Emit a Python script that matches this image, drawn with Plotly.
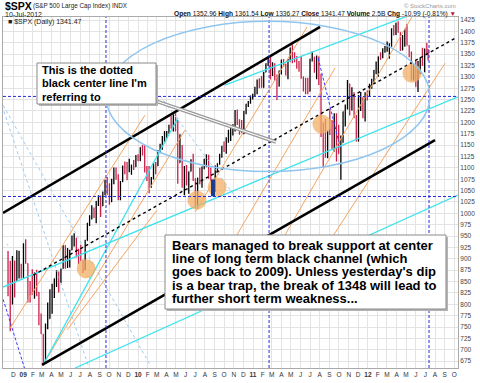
import plotly.graph_objects as go
import pandas as pd

# ---------------- weekly S&P 500 bars ----------------
first_open = 931
close_2008 = [873, 800, 896, 876, 879, 887, 873]
high_2008 = [917, 896, 906, 896, 919, 918, 889]
low_2008 = [818, 741, 800, 815, 851, 857, 857]

close_2009 = [932, 890, 850, 832, 826, 869, 827, 770, 735, 683, 756, 768, 816, 843, 857, 870, 866, 878,
              929, 883, 887, 919, 940, 946, 921, 918, 896, 879, 940, 979, 987, 1010, 1005, 1026, 1029,
              1016, 1042, 1068, 1044, 1025, 1071, 1087, 1080, 1036, 1069, 1093, 1091, 1091, 1106, 1106,
              1102, 1126, 1115]
high_2009 = [934, 943, 890, 851, 877, 870, 876, 827, 780, 735, 758, 804, 833, 845, 857, 875, 872, 878,
             930, 930, 924, 920, 951, 956, 946, 922, 931, 898, 942, 979, 996, 1018, 1013, 1027, 1040,
             1039, 1048, 1074, 1080, 1066, 1076, 1101, 1101, 1086, 1071, 1105, 1114, 1113, 1120, 1107,
             1117, 1128, 1130]
low_2009 = [857, 889, 804, 804, 821, 812, 818, 754, 735, 666, 672, 745, 768, 779, 814, 838, 826, 847,
            878, 878, 880, 881, 919, 927, 903, 888, 896, 869, 875, 940, 972, 987, 990, 978, 1016,
            992, 1016, 1040, 1041, 1019, 1025, 1064, 1074, 1029, 1029, 1069, 1086, 1073, 1091, 1085,
            1095, 1102, 1115]

close_2010 = [1145, 1136, 1092, 1074, 1066, 1075, 1109, 1104, 1138, 1150, 1159, 1167,
              1179, 1194, 1192, 1217, 1187, 1111, 1136, 1087, 1089, 1064, 1092, 1117, 1076,
              1022, 1078, 1065, 1102, 1102, 1122, 1079, 1071, 1065, 1104, 1110, 1125, 1148,
              1146, 1166, 1176, 1183, 1183, 1225, 1199, 1199, 1190, 1225, 1240, 1244, 1256, 1258]
high_2010 = [1145, 1150, 1150, 1104, 1104, 1080, 1112, 1113, 1139, 1153, 1170, 1181,
             1181, 1195, 1214, 1217, 1220, 1205, 1174, 1150, 1104, 1106, 1092, 1119, 1131,
             1077, 1078, 1100, 1103, 1120, 1130, 1129, 1100, 1072, 1105, 1110, 1131, 1148,
             1158, 1167, 1184, 1190, 1196, 1227, 1228, 1207, 1205, 1225, 1241, 1247, 1259, 1263]
low_2010 = [1115, 1127, 1090, 1071, 1044, 1056, 1075, 1086, 1104, 1132, 1140, 1155,
            1165, 1175, 1186, 1180, 1180, 1065, 1111, 1056, 1040, 1061, 1043, 1092, 1071,
            1011, 1010, 1064, 1056, 1097, 1102, 1076, 1070, 1040, 1047, 1091, 1107, 1122,
            1135, 1131, 1155, 1159, 1171, 1180, 1194, 1173, 1177, 1174, 1218, 1234, 1241, 1250]

close_2011 = [1271, 1293, 1283, 1276, 1310, 1329, 1343, 1320, 1321, 1304, 1279, 1313,
              1332, 1328, 1319, 1337, 1364, 1340, 1338, 1333, 1331, 1300, 1271, 1271, 1268,
              1339, 1344, 1316, 1345, 1292, 1199, 1178, 1124, 1177, 1174, 1154, 1216, 1136, 1131,
              1155, 1224, 1238, 1285, 1253, 1263, 1216, 1159, 1244, 1255, 1219, 1265, 1258]
high_2011 = [1278, 1294, 1297, 1302, 1311, 1330, 1344, 1343, 1332, 1330, 1305, 1314,
             1338, 1339, 1329, 1339, 1364, 1371, 1354, 1346, 1335, 1346, 1301, 1298, 1298,
             1340, 1356, 1344, 1347, 1345, 1307, 1199, 1208, 1182, 1230, 1205, 1220, 1220, 1195,
             1171, 1224, 1239, 1293, 1285, 1277, 1266, 1216, 1260, 1267, 1255, 1266, 1270]
low_2011 = [1257, 1262, 1275, 1276, 1276, 1310, 1324, 1294, 1302, 1292, 1249, 1279,
            1305, 1322, 1303, 1295, 1334, 1330, 1332, 1318, 1311, 1296, 1268, 1262, 1262,
            1268, 1334, 1309, 1295, 1282, 1168, 1101, 1122, 1121, 1172, 1140, 1136, 1114, 1131,
            1074, 1155, 1191, 1228, 1215, 1226, 1209, 1158, 1158, 1225, 1209, 1202, 1248]

close_2012 = [1278, 1289, 1315, 1316, 1345, 1343, 1361, 1366, 1370, 1371, 1404, 1397, 1408,
              1398, 1370, 1378, 1403, 1369, 1353, 1295, 1318, 1278, 1325, 1343, 1335, 1362,
              1355, 1341]
high_2012 = [1285, 1296, 1315, 1334, 1345, 1354, 1363, 1368, 1378, 1374, 1407, 1414, 1419,
             1422, 1398, 1392, 1406, 1416, 1370, 1356, 1328, 1335, 1335, 1343, 1364, 1362,
             1375, 1361]
low_2012 = [1258, 1274, 1286, 1306, 1300, 1337, 1341, 1353, 1355, 1340, 1366, 1391, 1392,
            1397, 1357, 1358, 1366, 1369, 1343, 1292, 1292, 1278, 1267, 1306, 1324, 1310,
            1350, 1336]

# ---------------- drawn tools (dates / prices) ----------------
upper_channel_dates = ['2008-10-29', '2011-08-02']
upper_channel_prices = [1001, 1410]
center_line_dates = ['2009-02-02', '2012-10-04']
center_line_prices = [864, 1385]
lower_channel_dates = ['2009-03-02', '2012-08-01']
lower_channel_prices = [667, 1161]

cyan_lines = {
    'A': (['2008-10-29', '2012-10-13'], [838, 1256]),
    'B': (['2010-10-04', '2012-05-30'], [1282, 1440]),
    'C': (['2009-06-15', '2012-10-13'], [660, 1040]),
    'S1': (['2009-03-05', '2010-05-08'], [667, 1210]),
}
orange_lines = {
    'O1': (['2008-11-21', '2010-01-23'], [748, 1216]),
    'O2': (['2009-03-05', '2010-05-30'], [667, 1183]),
    'O3': (['2010-07-01', '2011-06-22'], [1003, 1410]),
    'O4': (['2010-10-04', '2011-09-19'], [908, 1320]),
    'O5': (['2010-12-23', '2012-05-23'], [821, 1436]),
    'O6': (['2011-04-13', '2012-09-02'], [788, 1330]),
    'O8': (['2009-05-21', '2010-03-02'], [744, 1007]),
}
light_blue_lines = {
    'L1': (['2008-10-20', '2009-07-26'], [1249, 667]),
    'L2': (['2008-10-20', '2010-02-08'], [1249, 667]),
    'L3': (['2010-03-12', '2010-11-21'], [1258, 1023]),
}
blue_dash_lines = {
    'D1': (['2008-10-20', '2009-01-07'], [832, 656]),
    'D2': (['2011-07-27', '2011-10-05'], [1341, 1144]),
}
vertical_line_dates = ['2009-09-21', '2011-02-21', '2012-07-13']
horizontal_line_prices = [1257, 1037]
ellipse_dates = ['2009-09-21', '2012-07-16']
ellipse_prices = [1092, 1422]
blob_dates = ['2009-07-20', '2010-07-07', '2010-09-09', '2011-08-08', '2012-05-20']
blob_prices = [878, 1029, 1058, 1196, 1308]
navy_mark_dates = ['2010-08-27']
navy_mark_prices = [1056]

y_ticks = list(range(675, 1426, 25))
month_letters = ['J', 'F', 'M', 'A', 'M', 'J', 'J', 'A', 'S', 'O', 'N', 'D']

# ---------------- assemble ----------------
closes = close_2008 + close_2009 + close_2010 + close_2011 + close_2012
highs = high_2008 + high_2009 + high_2010 + high_2011 + high_2012
lows = low_2008 + low_2009 + low_2010 + low_2011 + low_2012
opens = [first_open] + closes[:-1]
dates = list(pd.date_range('2008-11-14', periods=len(closes), freq='W-FRI').strftime('%Y-%m-%d'))
dates[-1] = '2012-07-10'

month_starts = pd.date_range('2008-12-01', '2012-10-01', freq='MS')
tick_vals = [d.strftime('%Y-%m-%d') for d in month_starts]
tick_text = ['<b>%02d</b>' % (d.year % 100) if d.month == 1 else month_letters[d.month - 1]
             for d in month_starts]

FONT = 'Liberation Sans, Arial, sans-serif'
fig = go.Figure()

fig.add_trace(go.Ohlc(
    x=dates, open=opens, high=highs, low=lows, close=closes,
    increasing=dict(line=dict(color='black', width=1.3)),
    decreasing=dict(line=dict(color='#cc1f4a', width=1.3)),
    tickwidth=0.3, showlegend=False, hoverinfo='skip'))


def add_line(xs, ys, color, width, dash='solid'):
    fig.add_trace(go.Scatter(x=xs, y=ys, mode='lines', line=dict(color=color, width=width, dash=dash),
                             showlegend=False, hoverinfo='skip'))


for k, (xs, ys) in light_blue_lines.items():
    add_line(xs, ys, '#9ecbf2', 1, 'dot')
for k, (xs, ys) in blue_dash_lines.items():
    add_line(xs, ys, '#3b3bff', 1, '3px,2px')
for k, (xs, ys) in orange_lines.items():
    add_line(xs, ys, '#f5a560', 1)
for k, (xs, ys) in cyan_lines.items():
    add_line(xs, ys, '#3fe3ee', 1.3)
add_line(upper_channel_dates, upper_channel_prices, 'black', 2.5)
add_line(lower_channel_dates, lower_channel_prices, 'black', 2.5)
add_line(center_line_dates, center_line_prices, 'black', 1.4, 'dot')

fig.add_trace(go.Scatter(x=blob_dates, y=blob_prices, mode='markers',
                         marker=dict(size=19, color='rgba(241,175,100,0.75)', line=dict(width=0)),
                         showlegend=False, hoverinfo='skip'))
fig.add_trace(go.Scatter(x=navy_mark_dates, y=navy_mark_prices, mode='markers',
                         marker=dict(symbol='line-ns', size=12, line=dict(color='#1d3c8c', width=4)),
                         showlegend=False, hoverinfo='skip'))

shapes = []
for d in vertical_line_dates:
    shapes.append(dict(type='line', xref='x', yref='paper', x0=d, x1=d, y0=0, y1=1,
                       line=dict(color='#2a2ae0', width=1, dash='3px,2px')))
for p in horizontal_line_prices:
    shapes.append(dict(type='line', xref='paper', yref='y', x0=0, x1=1, y0=p, y1=p,
                       line=dict(color='#2a2ae0', width=1, dash='3px,2px')))
shapes.append(dict(type='circle', xref='x', yref='y', x0=ellipse_dates[0], x1=ellipse_dates[1],
                   y0=ellipse_prices[0], y1=ellipse_prices[1], line=dict(color='#8fc6f0', width=1.5)))


def px(x):
    return (x - 3) / 455.0


def py(y):
    return (368 - y) / 351.0


# callout pointer (double grey line)
shapes.append(dict(type='line', xref='paper', yref='paper', x0=px(150), y0=py(99), x1=px(276), y1=py(142),
                   line=dict(color='#9a9a9a', width=3.5)))
shapes.append(dict(type='line', xref='paper', yref='paper', x0=px(150), y0=py(99), x1=px(276), y1=py(142),
                   line=dict(color='white', width=1.3)))
# callout box + shadow
shapes.append(dict(type='rect', xref='paper', yref='paper', x0=px(39), x1=px(158), y0=py(106), y1=py(65),
                   fillcolor='#b5b5b5', line=dict(width=0)))
shapes.append(dict(type='rect', xref='paper', yref='paper', x0=px(37), x1=px(156), y0=py(104), y1=py(63),
                   fillcolor='white', line=dict(color='#8a8a8a', width=1)))
# big text box + shadow
shapes.append(dict(type='rect', xref='paper', yref='paper', x0=px(167), x1=px(448), y0=py(311), y1=py(237),
                   fillcolor='#b5b5b5', line=dict(width=0)))
shapes.append(dict(type='rect', xref='paper', yref='paper', x0=px(165), x1=px(446), y0=py(309), y1=py(235),
                   fillcolor='white', line=dict(color='#8a8a8a', width=1)))

ann = []


def text(x, y, s, size, color='black', anchor='left', bold=False):
    ann.append(dict(xref='paper', yref='paper', x=px(x), y=py(y), text=('<b>%s</b>' % s) if bold else s,
                    showarrow=False, xanchor=anchor, yanchor='middle',
                    font=dict(family=FONT, size=size, color=color)))


callout_lines = ["This is the dotted", "black center line I'm", "referring to"]
for i, s in enumerate(callout_lines):
    text(40, 70 + i * 13.3, s, 11, bold=True)

box_lines = ["Bears managed to break support at center",
             "line of long term black channel (which",
             "goes back to 2009). Unless yesterday's dip",
             "is a bear trap, the break of 1348 will lead to",
             "further short term weakness..."]
for i, s in enumerate(box_lines):
    text(170, 245 + i * 13.4, s, 13, bold=True)

text(3, 5.5, '$SPX', 10.5, bold=True)
text(31, 6, '(S&P 500 Large Cap Index) INDX', 6.3, color='#222')
text(3, 14, '10-Jul-2012', 7, color='#222')
text(458, 14, '<b>Open</b> 1352.96 <b>High</b> 1361.54 <b>Low</b> 1336.27 <b>Close</b> 1341.47 '
              '<b>Volume</b> 2.5B <b>Chg</b> -10.99 (-0.81%) <span style="color:#c0103a">▼</span>',
     6.6, color='#111', anchor='right')
text(458, 5.5, '© StockCharts.com', 6, color='#999', anchor='right')
text(6, 22, '■ $SPX (Daily) 1341.47', 7, color='#222')

fig.update_layout(
    width=480, height=383,
    margin=dict(l=3, r=22, t=17, b=15),
    paper_bgcolor='white', plot_bgcolor='white',
    shapes=shapes, annotations=ann, showlegend=False,
    xaxis=dict(type='date', range=['2008-10-29', '2012-10-13'], rangeslider=dict(visible=False),
               tickvals=tick_vals, ticktext=tick_text, tickangle=0, showgrid=True, gridcolor='#e3e3e3',
               gridwidth=1, ticks='', zeroline=False, showline=True, linecolor='#aaaaaa', mirror=True,
               ticklabeloverflow='allow',
               tickfont=dict(family=FONT, size=6.5, color='#333')),
    yaxis=dict(range=[660, 1431.6], side='right', tickvals=y_ticks, showgrid=True, gridcolor='#e3e3e3',
               gridwidth=1, ticks='', zeroline=False, showline=True, linecolor='#aaaaaa', mirror=True,
               ticklabeloverflow='allow',
               tickfont=dict(family=FONT, size=6.5, color='#444')),
)

fig.write_html('out.html', config={'displayModeBar': False},
               post_script="document.body.style.margin='0px';document.body.style.padding='0px';")
